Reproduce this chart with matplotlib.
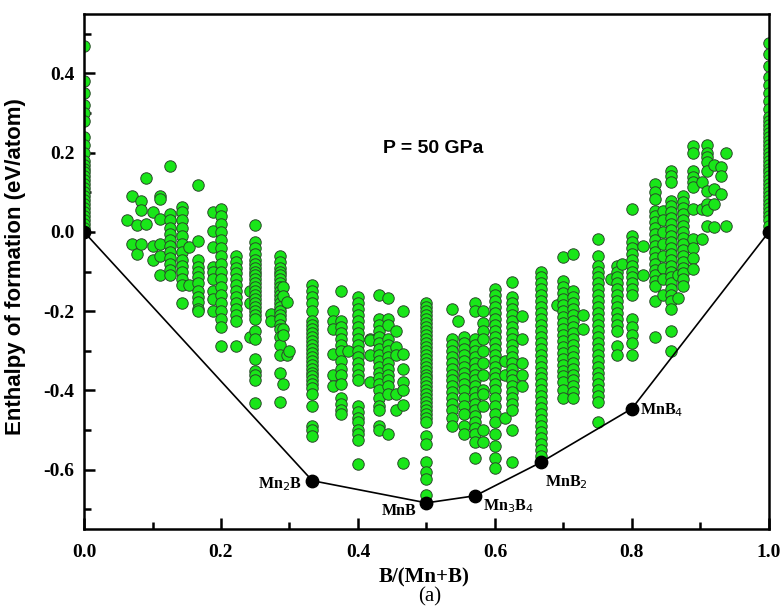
import numpy as np
import matplotlib.pyplot as plt

plt.rcParams['axes.unicode_minus'] = False

# structures found at each composition B/(Mn+B): (x, list of enthalpies)
mn_rich_x = [0.0, 0.0625, 0.07, 0.078, 0.083, 0.09, 0.1, 0.111, 0.125, 0.143, 0.153, 0.167, 0.188,
             0.2, 0.222, 0.243, 0.25, 0.273, 0.286, 0.29, 0.296, 0.3]
mn_rich_y = [
    [0.47, 0.38, 0.35, 0.32, 0.30, 0.28, 0.24, 0.22, 0.20, 0.18, 0.17, 0.16, 0.15, 0.14, 0.13, 0.12,
     0.11, 0.10, 0.09, 0.08, 0.07, 0.06, 0.05, 0.04, 0.03, 0.02, 0.01],
    [0.03],
    [0.09, -0.03],
    [0.018, -0.055],
    [0.078, 0.055, -0.03],
    [0.136, 0.02],
    [0.05, -0.035, -0.07],
    [0.09, 0.083, 0.033, -0.03, -0.06, -0.11],
    [0.166, 0.045, 0.03, 0.01, -0.005, -0.02, -0.035, -0.05, -0.065, -0.08, -0.095, -0.11],
    [0.063, 0.05, 0.03, 0.01, -0.01, -0.03, -0.05, -0.07, -0.085, -0.1, -0.12, -0.135, -0.18],
    [-0.038, -0.133],
    [0.118, -0.022, -0.07, -0.088, -0.1, -0.115, -0.13, -0.15, -0.165, -0.177, -0.194, -0.2],
    [0.05, 0.003, -0.038, -0.088, -0.1, -0.12, -0.15, -0.17, -0.2],
    [0.058, 0.04, 0.02, 0.0, -0.02, -0.04, -0.06, -0.08, -0.1, -0.12, -0.14, -0.16, -0.18, -0.2,
     -0.22, -0.24, -0.287],
    [-0.06, -0.075, -0.09, -0.105, -0.12, -0.135, -0.15, -0.165, -0.18, -0.195, -0.21, -0.225, -0.287],
    [-0.15, -0.18, -0.265],
    [0.018, -0.025, -0.04, -0.055, -0.07, -0.08, -0.09, -0.1, -0.11, -0.12, -0.13, -0.14, -0.15,
     -0.16, -0.17, -0.18, -0.19, -0.2, -0.21, -0.22, -0.25, -0.27, -0.32, -0.35, -0.36, -0.375, -0.433],
    [-0.207, -0.225],
    [-0.06, -0.075, -0.09, -0.1, -0.11, -0.12, -0.13, -0.14, -0.15, -0.16, -0.17, -0.18, -0.19, -0.2,
     -0.21, -0.22, -0.235, -0.245, -0.265, -0.285, -0.31, -0.357, -0.43],
    [-0.14, -0.163, -0.244, -0.26, -0.383],
    [-0.177, -0.31],
    [-0.3],
]

mid_x = [0.333, 0.364, 0.375, 0.385, 0.4, 0.417, 0.43, 0.444, 0.455, 0.466, 0.5, 0.538, 0.546,
         0.555, 0.571, 0.583, 0.6, 0.614, 0.625, 0.64]
mid_y = [
    [-0.135, -0.15, -0.165, -0.18, -0.2, -0.225, -0.235, -0.245, -0.255, -0.265, -0.275, -0.285,
     -0.295, -0.305, -0.315, -0.325, -0.335, -0.345, -0.355, -0.365, -0.375, -0.385, -0.395, -0.41,
     -0.44, -0.49, -0.5, -0.515],
    [-0.2, -0.225, -0.245, -0.307, -0.36, -0.39],
    [-0.148, -0.225, -0.24, -0.255, -0.27, -0.285, -0.3, -0.325, -0.345, -0.36, -0.383, -0.42,
     -0.435, -0.45, -0.46],
    [-0.3],
    [-0.165, -0.18, -0.195, -0.21, -0.225, -0.24, -0.255, -0.27, -0.285, -0.3, -0.315, -0.33, -0.345,
     -0.36, -0.375, -0.44, -0.455, -0.47, -0.48, -0.5, -0.51, -0.525, -0.586],
    [-0.27, -0.274, -0.31, -0.38],
    [-0.16, -0.22, -0.235, -0.25, -0.265, -0.28, -0.295, -0.31, -0.325, -0.34, -0.355, -0.37, -0.385,
     -0.4, -0.42, -0.44, -0.45, -0.49, -0.5],
    [-0.168, -0.22, -0.235, -0.27, -0.285, -0.3, -0.315, -0.33, -0.345, -0.36, -0.375, -0.39, -0.41,
     -0.51],
    [-0.25, -0.29, -0.31, -0.41, -0.45],
    [-0.2, -0.307, -0.345, -0.378, -0.4, -0.437, -0.584],
    [-0.18, -0.19, -0.2, -0.21, -0.22, -0.23, -0.24, -0.25, -0.26, -0.27, -0.28, -0.29, -0.3, -0.31,
     -0.32, -0.33, -0.34, -0.35, -0.36, -0.37, -0.38, -0.39, -0.4, -0.41, -0.42, -0.43, -0.44, -0.45,
     -0.46, -0.47, -0.48, -0.515, -0.535, -0.58, -0.605, -0.625, -0.665],
    [-0.194, -0.27, -0.285, -0.3, -0.315, -0.33, -0.345, -0.36, -0.375, -0.39, -0.405, -0.42, -0.435,
     -0.45, -0.47, -0.49],
    [-0.224],
    [-0.265, -0.28, -0.295, -0.31, -0.325, -0.34, -0.355, -0.37, -0.385, -0.4, -0.42, -0.44, -0.46,
     -0.49, -0.51],
    [-0.18, -0.2, -0.27, -0.285, -0.3, -0.315, -0.33, -0.345, -0.36, -0.375, -0.39, -0.405, -0.42,
     -0.435, -0.45, -0.465, -0.48, -0.495, -0.51, -0.53, -0.57],
    [-0.2, -0.23, -0.25, -0.27, -0.3, -0.33, -0.36, -0.4, -0.41, -0.44, -0.5, -0.53],
    [-0.143, -0.16, -0.175, -0.19, -0.205, -0.22, -0.235, -0.25, -0.265, -0.28, -0.295, -0.31,
     -0.325, -0.34, -0.355, -0.37, -0.385, -0.4, -0.42, -0.44, -0.46, -0.48, -0.51, -0.54, -0.57,
     -0.597],
    [-0.325, -0.36, -0.47],
    [-0.126, -0.165, -0.18, -0.195, -0.21, -0.225, -0.24, -0.255, -0.27, -0.285, -0.3, -0.315,
     -0.33, -0.345, -0.36, -0.375, -0.39, -0.405, -0.42, -0.435, -0.45, -0.5, -0.58],
    [-0.213, -0.27, -0.33, -0.36, -0.39],
]

b_rich_x = [0.667, 0.69, 0.7, 0.714, 0.728, 0.75, 0.77, 0.778, 0.785, 0.8, 0.816, 0.833, 0.846,
            0.857, 0.867, 0.875, 0.889, 0.902, 0.909, 0.92, 0.93, 0.938, 1.0]
b_rich_y = [
    [-0.1, -0.115, -0.13, -0.145, -0.16, -0.175, -0.19, -0.205, -0.22, -0.235, -0.25, -0.265, -0.28,
     -0.295, -0.31, -0.325, -0.34, -0.355, -0.37, -0.385, -0.4, -0.415, -0.43, -0.445, -0.46, -0.475,
     -0.49, -0.505, -0.52, -0.535, -0.55, -0.565],
    [-0.185],
    [-0.064, -0.124, -0.14, -0.155, -0.17, -0.185, -0.2, -0.215, -0.23, -0.245, -0.26, -0.275, -0.29,
     -0.305, -0.32, -0.335, -0.35, -0.365, -0.38, -0.4, -0.42],
    [-0.055, -0.15, -0.165, -0.18, -0.195, -0.21, -0.225, -0.24, -0.255, -0.27, -0.285, -0.3, -0.315,
     -0.33, -0.345, -0.36, -0.375, -0.39, -0.405, -0.42],
    [-0.21, -0.244],
    [-0.018, -0.06, -0.085, -0.1, -0.115, -0.13, -0.145, -0.16, -0.175, -0.19, -0.205, -0.22, -0.235,
     -0.25, -0.265, -0.28, -0.295, -0.31, -0.325, -0.34, -0.355, -0.37, -0.385, -0.4, -0.415, -0.43,
     -0.48],
    [-0.118],
    [-0.085, -0.1, -0.115, -0.13, -0.145, -0.16, -0.175, -0.19, -0.205, -0.22, -0.235, -0.25, -0.287,
     -0.31],
    [-0.08],
    [0.058, -0.01, -0.025, -0.04, -0.055, -0.07, -0.085, -0.1, -0.115, -0.13, -0.145, -0.16, -0.22,
     -0.24, -0.26, -0.28, -0.31],
    [-0.035, -0.11],
    [0.12, 0.1, 0.083, 0.053, 0.04, 0.025, 0.01, -0.005, -0.02, -0.035, -0.05, -0.065, -0.08, -0.095,
     -0.11, -0.125, -0.136, -0.174, -0.265],
    [0.053, 0.03, 0.0, -0.03, -0.06, -0.09, -0.12, -0.16],
    [0.154, 0.14, 0.125, 0.078, 0.065, 0.05, 0.035, 0.02, 0.005, -0.01, -0.025, -0.04, -0.055, -0.07,
     -0.085, -0.1, -0.115, -0.13, -0.145, -0.16, -0.175, -0.194, -0.25, -0.3],
    [-0.11, -0.168],
    [0.09, 0.075, 0.06, 0.045, 0.03, 0.015, 0.0, -0.015, -0.03, -0.045, -0.06, -0.075, -0.09, -0.105,
     -0.12, -0.136],
    [0.216, 0.2, 0.154, 0.138, 0.125, 0.113, 0.058, -0.018, -0.04, -0.065, -0.093],
    [0.126, 0.058, -0.018],
    [0.22, 0.2, 0.188, 0.176, 0.154, 0.103, 0.07, 0.055, 0.015],
    [0.17, 0.108, 0.07, 0.013],
    [0.165, 0.14, 0.096],
    [0.2, 0.015],
    [0.478, 0.448, 0.418, 0.39, 0.37, 0.35, 0.33, 0.31, 0.29, 0.28, 0.27, 0.26, 0.25, 0.24, 0.23,
     0.22, 0.21, 0.2, 0.19, 0.18, 0.17, 0.16, 0.15, 0.14, 0.13, 0.12, 0.11, 0.1, 0.09, 0.08, 0.07,
     0.06, 0.05, 0.04, 0.03, 0.015],
]

# convex hull
hull_x = [0.0, 0.3333, 0.5, 0.5714, 0.6667, 0.8, 1.0]
hull_y = [0.0, -0.628, -0.684, -0.666, -0.582, -0.446, 0.0]
hull_names = ['', 'Mn$_2$B', 'MnB', 'Mn$_3$B$_4$', 'MnB$_2$', 'MnB$_4$', '']


def flatten(xs, ys):
    px, py = [], []
    for x, col in zip(xs, ys):
        px += [x] * len(col)
        py += col
    return px, py


fig = plt.figure(figsize=(7.83, 6.12), dpi=100)
ax = fig.add_axes([0.1073, 0.1356, 0.8747, 0.8415])

for xs, ys in [(mn_rich_x, mn_rich_y), (mid_x, mid_y), (b_rich_x, b_rich_y)]:
    px, py = flatten(xs, ys)
    ax.scatter(px, py, s=68, c='#19e619', edgecolors='#2a4a2a', linewidths=0.7, zorder=2)

ax.plot(hull_x, hull_y, color='black', lw=1.2, zorder=3)
ax.scatter(hull_x, hull_y, s=80, c='black', zorder=4)

serif = dict(family='Liberation Serif', fontweight='bold', fontsize=11.5)
ax.text(0.318, -0.636, hull_names[1], ha='right', va='center', **serif)
ax.text(0.46, -0.704, hull_names[2], ha='center', va='center', **serif)
ax.text(0.582, -0.692, hull_names[3], ha='left', va='center', **serif)
ax.text(0.673, -0.632, hull_names[4], ha='left', va='center', **serif)
ax.text(0.812, -0.45, hull_names[5], ha='left', va='center', **serif)

ax.text(0.437, 0.21, 'P = 50 GPa', fontsize=14, fontweight='bold', family='Liberation Sans',
        va='center')

ax.set_xlim(0, 1)
ax.set_ylim(-0.75, 0.55)
ax.set_xticks([0.0, 0.2, 0.4, 0.6, 0.8, 1.0])
ax.set_xticks(np.arange(0.1, 1.0, 0.2), minor=True)
ax.set_yticks([-0.6, -0.4, -0.2, 0.0, 0.2, 0.4])
ax.set_yticks([-0.7, -0.5, -0.3, -0.1, 0.1, 0.3, 0.5], minor=True)
ax.tick_params(which='both', direction='in', width=1.8, top=False, right=False)
ax.tick_params(which='major', length=8)
ax.tick_params(which='minor', length=5)
ax.tick_params(axis='x', which='major', pad=11)
ax.tick_params(axis='y', which='major', pad=7)
for lab in ax.get_xticklabels() + ax.get_yticklabels():
    lab.set_family('Liberation Serif')
    lab.set_fontweight('bold')
    lab.set_fontsize(14)
for sp in ax.spines.values():
    sp.set_linewidth(1.8)

ax.set_ylabel('Enthalpy of formation (eV/atom)', fontsize=16, fontweight='bold',
              family='Liberation Sans')
ax.yaxis.set_label_coords(-0.085, 0.51)

fig.text(0.5415, 0.057, 'B/(Mn+B)', fontsize=15, fontweight='bold', family='Liberation Serif',
         ha='center', va='center')
fig.text(0.549, 0.0245, '(a)', fontsize=15, family='Liberation Serif', ha='center', va='center')

fig.savefig('out.png', dpi=100)
